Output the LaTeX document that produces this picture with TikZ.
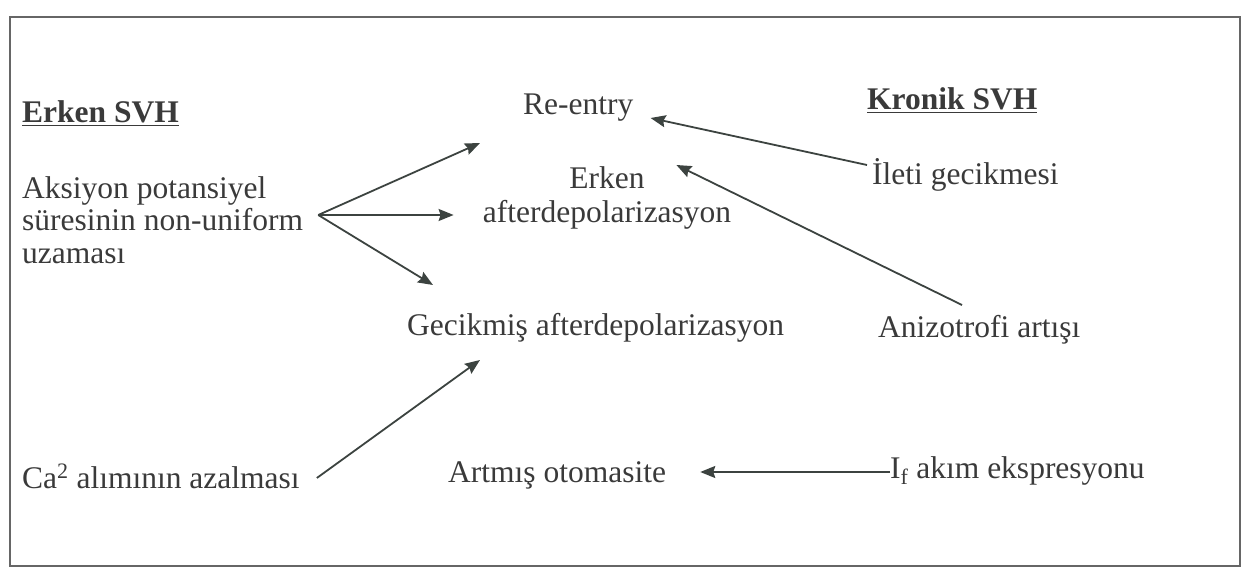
\documentclass[tikz,border=0pt]{standalone}
\usepackage{fontspec}
\setmainfont{Liberation Serif}
\usetikzlibrary{arrows.meta, positioning}
\definecolor{inkgray}{HTML}{3A3A3A}
\definecolor{arrowgray}{HTML}{3C4340}

\begin{document}
\begin{tikzpicture}[
        x=1pt, y=-1pt,
        txt/.style={inner sep=0pt, text=inkgray, font=\fontsize{31.5}{34}\selectfont},
        heading/.style={txt, font=\fontsize{31.5}{34}\selectfont\bfseries},
        arrow/.style={-{Stealth[length=15pt, width=12pt, inset=2pt]}, line width=1.8pt, draw=arrowgray}
    ]
        \useasboundingbox (0,0) rectangle (1248,572);
        \draw[line width=1.3pt, draw=gray!80!black] (10,17) rectangle (1240,566);

        \node[heading, anchor=base west] (early) at (22,123) {\underline{Erken SVH}};
        \node[heading, anchor=base west] (chronic) at (867,110) {\underline{Kronik SVH}};
        \node[txt, anchor=base west, align=left, font=\fontsize{31.5}{33}\selectfont] (aps) at (22,264) {Aksiyon potansiyel\\ süresinin non-uniform\\ uzaması};
        \node[txt, anchor=base west] (reentry) at (523,115) {Re-entry};
        \node[txt, anchor=base, align=center] (ead) at (607,223) {Erken\\ afterdepolarizasyon};
        \node[txt, anchor=base west] (dad) at (407,335) {Gecikmiş afterdepolarizasyon};
        \node[txt, anchor=base west] (ileti) at (872,185) {İleti gecikmesi};
        \node[txt, anchor=base west] (aniz) at (878,337) {Anizotrofi artışı};
        \node[txt, anchor=base west] (ca) at (22,488) {Ca\textsuperscript{2} alımının azalması};
        \node[txt, anchor=base west] (oto) at (448,482) {Artmış otomasite};
        \node[txt, anchor=base west] (ifc) at (890,478) {I\textsubscript{f} akım ekspresyonu};

        \draw[arrow] ([xshift=15pt, yshift=49pt]aps.base east) -- ([xshift=-43pt, yshift=-28pt]reentry.base west);
        \draw[arrow] ([xshift=15pt, yshift=49pt]aps.base east) -- ([xshift=-29pt, yshift=8pt]ead.base west);
        \draw[arrow] ([xshift=15pt, yshift=49pt]aps.base east) -- ([xshift=26pt, yshift=50pt]dad.base west);
        \draw[arrow] ([xshift=-5pt, yshift=20pt]ileti.base west) -- ([xshift=17pt, yshift=-3pt]reentry.base east);
        \draw[arrow] ([xshift=84pt, yshift=32pt]aniz.base west) -- ([xshift=-55pt, yshift=58pt]ead.base east);
        \draw[arrow] ([xshift=17pt, yshift=10pt]ca.base east) -- ([xshift=73pt, yshift=-25pt]dad.base west);
        \draw[arrow] ([yshift=6pt]ifc.base west) -- ([xshift=34pt, yshift=10pt]oto.base east);
\end{tikzpicture}
\end{document}
